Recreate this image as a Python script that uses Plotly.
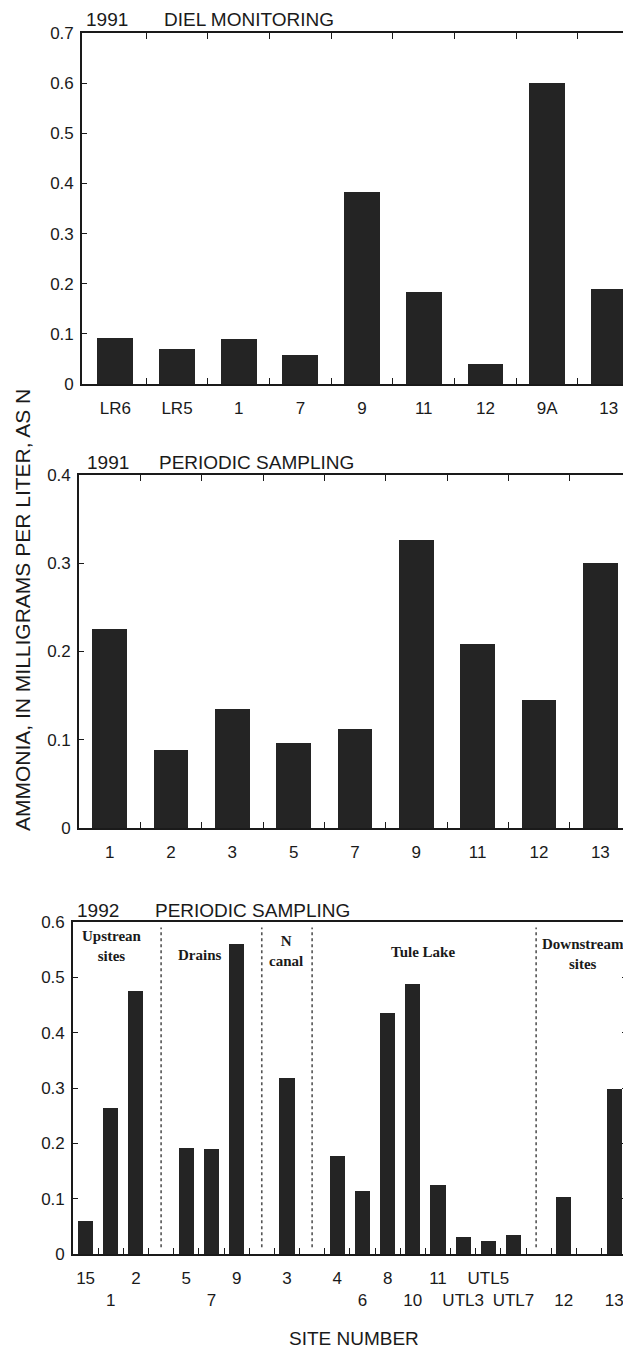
import plotly.graph_objects as go

# page body has an 8px margin: shift everything by it
OFF = 8
W, H = 631 - OFF, 1348 - OFF

# ---------------- data ----------------
diel_sites = ["LR6", "LR5", "1", "7", "9", "11", "12", "9A", "13"]
diel_vals = [0.092, 0.070, 0.089, 0.058, 0.382, 0.183, 0.040, 0.600, 0.190]

per91_sites = ["1", "2", "3", "5", "7", "9", "11", "12", "13"]
per91_vals = [0.225, 0.088, 0.135, 0.096, 0.112, 0.326, 0.209, 0.145, 0.300]

per92_sites = ["15", "1", "2", "5", "7", "9", "3", "4", "6", "8", "10", "11",
               "UTL3", "UTL5", "UTL7", "12", "13"]
per92_slots = [0, 1, 2, 4, 5, 6, 8, 10, 11, 12, 13, 14, 15, 16, 17, 19, 21]
per92_vals = [0.060, 0.263, 0.476, 0.192, 0.190, 0.560, 0.318, 0.177, 0.113,
              0.436, 0.488, 0.125, 0.030, 0.024, 0.035, 0.103, 0.298]
per92_row = [1, 2, 1, 1, 2, 1, 1, 1, 2, 1, 2, 1, 2, 1, 2, 2, 2]

group_names = ["Upstrean<br>sites", "Drains", "N<br>canal", "Tule Lake", "Downstream<br>sites"]
group_x = [1.05, 4.55, 7.98, 13.4, 19.75]
group_y = [0.557, 0.540, 0.548, 0.545, 0.542]
separator_x = [3, 7, 9, 17.9]

# ---------------- style ----------------
BAR = "#242424"
INK = "#1a1a1a"
SANS = "Liberation Sans, Arial, sans-serif"
SERIF = "Liberation Serif, Times New Roman, serif"


def px_x(p):
    return (p - OFF) / W


def px_y(p):
    return 1 - (p - OFF) / H


fig = go.Figure()
fig.add_trace(go.Bar(x=list(range(len(diel_sites))), y=diel_vals, width=0.58,
                     marker=dict(color=BAR, line=dict(width=0)), xaxis="x", yaxis="y"))
fig.add_trace(go.Bar(x=list(range(len(per91_sites))), y=per91_vals, width=0.57,
                     marker=dict(color=BAR, line=dict(width=0)), xaxis="x2", yaxis="y2"))
fig.add_trace(go.Bar(x=per92_slots, y=per92_vals, width=0.6,
                     marker=dict(color=BAR, line=dict(width=0)), xaxis="x3", yaxis="y3"))

tickfont = dict(family=SANS, size=17, color=INK)


def xax(domain, rng, tickvals, ticktext, minor_vals, anchor, mirror, standoff):
    return dict(domain=domain, range=rng, anchor=anchor, tickmode="array",
                tickvals=tickvals, ticktext=ticktext, ticks="", showgrid=False,
                zeroline=False, showline=True, linecolor=INK, linewidth=1.6,
                mirror=mirror, tickfont=tickfont, automargin=False, tickangle=0,
                ticklabelstandoff=standoff,
                minor=dict(tickmode="array", tickvals=minor_vals, ticks="inside",
                           ticklen=6, tickwidth=1.4, tickcolor=INK, showgrid=False))


def yax(domain, rng, dtick, anchor):
    return dict(domain=domain, range=rng, anchor=anchor, dtick=dtick, tick0=0,
                ticks="inside", ticklen=5, tickwidth=1.2, tickcolor=INK,
                showgrid=False, zeroline=False, showline=True, linecolor=INK,
                linewidth=1.6, mirror="ticks", tickfont=tickfont,
                automargin=False, ticklabelstandoff=3)


fig.update_layout(
    xaxis=xax([px_x(82), 1.0], [-0.54, 8.36], list(range(len(diel_sites))), diel_sites,
              [i + 0.5 for i in range(len(diel_sites) - 1)], "y", "ticks", 8),
    yaxis=yax([px_y(384), px_y(33)], [0, 0.7], 0.1, "x"),
    xaxis2=xax([px_x(79), 1.0], [-0.5, 8.5], list(range(len(per91_sites))), per91_sites,
               [i + 0.5 for i in range(len(per91_sites) - 1)], "y2", "ticks", 8),
    yaxis2=yax([px_y(828), px_y(475)], [0, 0.4], 0.1, "x2"),
    xaxis3=xax([px_x(73), px_x(627)], [-0.5, 21.51], per92_slots,
               [(s if r == 1 else "<br>" + s) for s, r in zip(per92_sites, per92_row)],
               [i + 0.5 for i in range(21)], "y3", True, 8),
    yaxis3=yax([px_y(1254), px_y(922)], [0, 0.6], 0.1, "x3"),
)

# separators in panel 3
for sx in separator_x:
    fig.add_shape(type="line", xref="x3", yref="y3", x0=sx, x1=sx, y0=0.012, y1=0.59,
                  line=dict(color="#555555", width=1.6, dash="dot"))

# group labels
for name, gx, gy in zip(group_names, group_x, group_y):
    fig.add_annotation(xref="x3", yref="y3", x=gx, y=gy, text="<b>" + name + "</b>",
                       showarrow=False, font=dict(family=SERIF, size=15, color=INK),
                       xanchor="center", yanchor="middle")

# panel titles
titles = [("1991", "DIEL MONITORING", 20),
          ("1991", "PERIODIC SAMPLING", 462),
          ("1992", "PERIODIC SAMPLING", 910)]
year_x = [85, 86, 76]
name_x = [163, 158, 154]
for (yr, nm, ty), yx, nx in zip(titles, year_x, name_x):
    fig.add_annotation(xref="paper", yref="paper", x=px_x(yx), y=px_y(ty), text=yr,
                       showarrow=False, xanchor="left", yanchor="middle",
                       font=dict(family=SANS, size=19, color=INK), borderpad=0)
    fig.add_annotation(xref="paper", yref="paper", x=px_x(nx), y=px_y(ty), text=nm,
                       showarrow=False, xanchor="left", yanchor="middle",
                       font=dict(family=SANS, size=19, color=INK), borderpad=0)

# axis titles
fig.add_annotation(xref="paper", yref="paper", x=px_x(22), y=px_y(610),
                   text="AMMONIA, IN MILLIGRAMS PER LITER, AS N", textangle=-90,
                   showarrow=False, xanchor="center", yanchor="middle",
                   font=dict(family=SANS, size=21, color=INK))
fig.add_annotation(xref="paper", yref="paper", x=px_x(354), y=px_y(1338),
                   text="SITE NUMBER", showarrow=False, xanchor="center", yanchor="middle",
                   font=dict(family=SANS, size=19, color=INK))

fig.update_layout(width=W, height=H, margin=dict(l=0, r=0, t=0, b=0),
                  paper_bgcolor="white", plot_bgcolor="white", showlegend=False,
                  bargap=0)

fig.write_html("out.html")
